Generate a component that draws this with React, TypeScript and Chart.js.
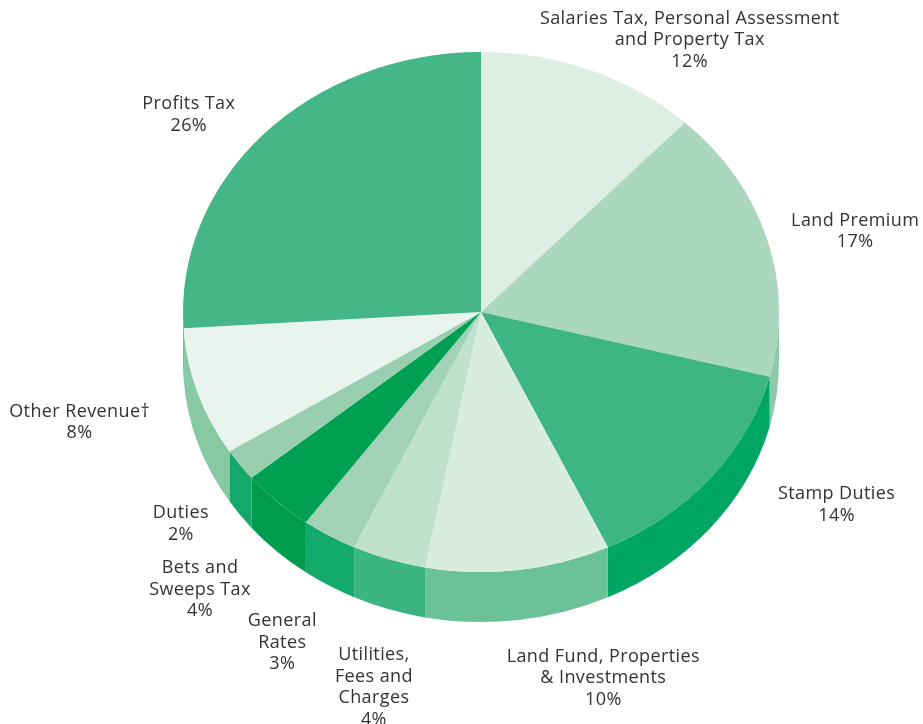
import React, { useEffect, useRef } from "react";
import { Chart, registerables } from "chart.js";

Chart.register(...registerables);

// ---- data ----
const CATEGORIES: string[][] = [
  ["Salaries Tax, Personal Assessment", "and Property Tax"],
  ["Land Premium"],
  ["Stamp Duties"],
  ["Land Fund, Properties", "& Investments"],
  ["Utilities,", "Fees and", "Charges"],
  ["General", "Rates"],
  ["Bets and", "Sweeps Tax"],
  ["Duties"],
  ["Other Revenue\u2020"],
  ["Profits Tax"],
];
const VALUES: number[] = [12, 17, 14, 10, 4, 3, 4, 2, 8, 26];

// ---- styles ----
const TOP_COLORS = [
  "#ddeee4",
  "#acd7bf",
  "#3eb585",
  "#d8ece0",
  "#bfe1cd",
  "#a2d2b7",
  "#00a052",
  "#99cfb0",
  "#e9f4ee",
  "#45b688",
];
const SIDE_COLORS = [
  "#c4e3d1",
  "#8ccba7",
  "#00a663",
  "#6cc298",
  "#3bb582",
  "#13aa6c",
  "#009c4e",
  "#14a96b",
  "#86c9a3",
  "#2fa974",
];
// label block centre relative to the slice's rim midpoint
const LABEL_OFFSETS: [number, number][] = [
  [99, -30],
  [88, -8],
  [126, 27],
  [85, 108],
  [-15, 128],
  [-47, 107],
  [-77, 88],
  [-59, 59],
  [-118, 30],
  [-75, -19],
];
const TILT = 260 / 298;
const DEPTH = 50;
const FONT = "18px 'Open Sans'";
const LINE_H = 21.5;

const pie3d = {
  id: "pie3d",
  beforeDatasetsDraw(chart: any) {
    const meta = chart.getDatasetMeta(0);
    const ctx: CanvasRenderingContext2D = chart.ctx;
    const first = meta.data[0];
    const cx = first.x;
    const cy = first.y;
    const r = first.outerRadius;
    const ry = r * TILT;
    meta.data.forEach((arc: any, i: number) => {
      const a1 = Math.max(arc.startAngle, 0);
      const a2 = Math.min(arc.endAngle, Math.PI);
      if (a2 <= a1) return;
      ctx.save();
      ctx.beginPath();
      ctx.ellipse(cx, cy, r, ry, 0, a1, a2);
      ctx.ellipse(cx, cy + DEPTH, r, ry, 0, a2, a1, true);
      ctx.closePath();
      ctx.fillStyle = SIDE_COLORS[i];
      ctx.fill();
      ctx.restore();
    });
    ctx.save();
    ctx.translate(cx, cy);
    ctx.scale(1, TILT);
    ctx.translate(-cx, -cy);
  },
  afterDatasetsDraw(chart: any) {
    chart.ctx.restore();
  },
  afterDraw(chart: any) {
    const meta = chart.getDatasetMeta(0);
    const ctx: any = chart.ctx;
    ctx.save();
    ctx.font = FONT;
    ctx.letterSpacing = "0.4px";
    ctx.fillStyle = "#333333";
    ctx.textAlign = "center";
    ctx.textBaseline = "middle";
    meta.data.forEach((arc: any, i: number) => {
      const mid = (arc.startAngle + arc.endAngle) / 2;
      const rx = arc.x + arc.outerRadius * Math.cos(mid);
      const ry = arc.y + arc.outerRadius * TILT * Math.sin(mid);
      const lines = [...CATEGORIES[i], VALUES[i] + "%"];
      const x = rx + LABEL_OFFSETS[i][0];
      const yc = ry + LABEL_OFFSETS[i][1];
      const y0 = yc - ((lines.length - 1) * LINE_H) / 2;
      lines.forEach((t, j) => ctx.fillText(t, x, y0 + j * LINE_H));
    });
    ctx.restore();
  },
};

export default function App() {
  const ref = useRef<HTMLCanvasElement>(null);
  useEffect(() => {
    if (!ref.current) return;
    const chart = new Chart(ref.current, {
      type: "pie",
      data: {
        labels: CATEGORIES.map((c) => c.join(" ")),
        datasets: [
          {
            data: VALUES,
            backgroundColor: TOP_COLORS,
            borderWidth: 0,
          },
        ],
      },
      options: {
        responsive: false,
        animation: false,
        devicePixelRatio: 1,
        layout: { padding: { left: 183, right: 144, top: 14, bottom: 114 } },
        plugins: {
          legend: { display: false },
          tooltip: { enabled: false },
        },
      },
      plugins: [pie3d],
    });
    return () => chart.destroy();
  }, []);
  return (
    <div style={{ position: "fixed", left: 0, top: 0, width: 923, height: 724, background: "#fff" }}>
      <canvas ref={ref} width={923} height={724} />
    </div>
  );
}
